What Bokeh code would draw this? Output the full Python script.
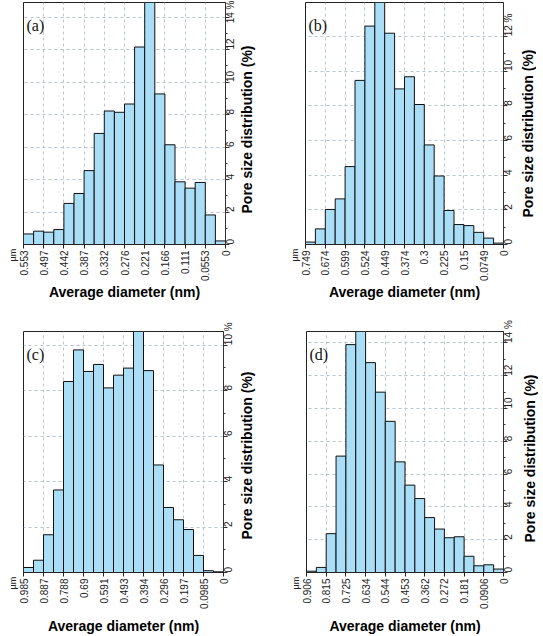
import math
from bokeh.plotting import figure
from bokeh.models import Range1d, FixedTicker, Label, ColumnDataSource, Title
from bokeh.layouts import row, column
from bokeh.embed import file_html
from bokeh.resources import INLINE

# ---------------- data ----------------
panel_tags = ["(a)", "(b)", "(c)", "(d)"]
x_max = [0.553, 0.749, 0.985, 0.906]

x_labels_a = ["0.553", "0.497", "0.442", "0.387", "0.332", "0.276", "0.221", "0.166", "0.111", "0.0553", "0"]
x_labels_b = ["0.749", "0.674", "0.599", "0.524", "0.449", "0.374", "0.3", "0.225", "0.15", "0.0749", "0"]
x_labels_c = ["0.985", "0.887", "0.788", "0.69", "0.591", "0.493", "0.394", "0.296", "0.197", "0.0985", "0"]
x_labels_d = ["0.906", "0.815", "0.725", "0.634", "0.544", "0.453", "0.362", "0.272", "0.181", "0.0906", "0"]

# pore size distribution (%) per bin, from largest diameter (left) to smallest (right)
pct_a = [0.65, 0.82, 0.76, 0.92, 2.53, 3.14, 4.55, 6.84, 8.22, 8.14, 8.65, 12.16, 14.9, 9.27, 6.14, 3.86, 3.47, 3.82, 1.82, 0.22]
pct_b = [0.14, 0.90, 2.02, 2.63, 4.49, 9.46, 12.59, 13.95, 12.18, 8.97, 9.67, 8.07, 5.74, 3.95, 1.96, 1.15, 1.09, 0.70, 0.37, 0.08]
pct_c = [0.22, 0.54, 1.66, 3.63, 8.40, 9.79, 8.84, 9.15, 8.12, 8.68, 8.99, 10.6, 8.88, 4.73, 2.86, 2.32, 1.89, 0.75, 0.08, 0.03]
pct_d = [0.08, 0.31, 2.37, 7.10, 13.9, 14.7, 12.8, 11.0, 9.22, 6.75, 5.33, 4.51, 3.35, 2.65, 2.12, 2.18, 0.99, 0.41, 0.47, 0.21]

y_ticks_a = [0, 2, 4, 6, 8, 10, 12, 14]
y_ticks_b = [0, 2, 4, 6, 8, 10, 12]
y_ticks_c = [0, 2, 4, 6, 8, 10]
y_ticks_d = [0, 2, 4, 6, 8, 10, 12, 14]

x_title = "Average diameter (nm)"
y_title = "Pore size distribution (%)"
unit_label = "µm"

BAR_FILL = "#a9def6"
GRID = "#b9c6d0"
SANS = "Liberation Sans"


def make_panel(tag, xmax, xlabels, pcts, yticks, fw, fh, bl, br, bt, xlab_standoff):
    n = len(pcts)
    hi = [xmax * (n - i) / n for i in range(n)]
    lo = [xmax * (n - i - 1) / n for i in range(n)]
    src = ColumnDataSource(dict(hi=hi, lo=lo, top=pcts, bottom=[0] * n))
    ymax = max(pcts)

    p = figure(
        frame_width=fw, frame_height=fh,
        min_border_left=bl, min_border_right=br, min_border_top=bt,
        min_border_bottom=0,
        x_range=Range1d(xmax, 0), y_range=Range1d(0, ymax),
        y_axis_location="right",
        output_backend="svg", toolbar_location=None,
        background_fill_color="white", border_fill_color="white",
    )
    p.outline_line_color = "#222222"
    p.outline_line_width = 1

    p.quad(left="hi", right="lo", top="top", bottom="bottom", source=src,
           fill_color=BAR_FILL, line_color="#111111", line_width=1)

    # x axis
    xt = [xmax * (10 - k) / 10 for k in range(11)]
    xax = p.xaxis[0]
    xax.ticker = FixedTicker(ticks=xt, minor_ticks=[])
    xax.major_label_overrides = {t: s for t, s in zip(xt, xlabels)}
    xax.major_label_orientation = math.pi / 2
    xax.major_label_text_font = SANS
    xax.major_label_text_font_size = "10px"
    xax.major_label_text_color = "#222222"
    xax.major_label_standoff = 2
    xax.major_tick_in = 0
    xax.major_tick_out = 4
    xax.axis_line_color = "#222222"
    xax.major_tick_line_color = "#222222"
    xax.axis_label = x_title
    xax.axis_label_text_font = SANS
    xax.axis_label_text_font_style = "bold"
    xax.axis_label_text_font_size = "14px"
    xax.axis_label_text_color = "#000000"
    xax.axis_label_standoff = xlab_standoff

    # y axis (right) -- its title is drawn in a separate strip to read bottom-to-top
    yax = p.yaxis[0]
    minor = [t + 1 for t in yticks if t + 1 < ymax]
    yax.ticker = FixedTicker(ticks=yticks, minor_ticks=minor)
    yax.major_label_overrides = {yticks[-1]: f"{yticks[-1]} %"}
    yax.major_label_orientation = math.pi / 2
    yax.major_label_text_font = SANS
    yax.major_label_text_font_size = "10px"
    yax.major_label_text_color = "#222222"
    yax.major_label_standoff = 1
    yax.major_tick_in = 0
    yax.major_tick_out = 4
    yax.minor_tick_in = 0
    yax.minor_tick_out = 2
    yax.axis_line_color = "#333333"
    yax.major_tick_line_color = "#333333"
    yax.minor_tick_line_color = "#333333"

    # grid
    p.xgrid.ticker = FixedTicker(ticks=xt)
    p.ygrid.ticker = FixedTicker(ticks=yticks)
    for g in (p.xgrid, p.ygrid):
        g.grid_line_color = GRID
        g.grid_line_dash = "3 3"
        g.grid_line_width = 1

    # panel tag
    p.add_layout(Label(x=xmax, y=ymax, x_offset=3, y_offset=-14, text=tag,
                       text_font="Liberation Serif", text_font_size="16px",
                       text_baseline="top", text_align="left", text_color="#111111"))
    # unit label
    p.add_layout(Title(text=unit_label, align="left", offset=-17,
                       standoff=11, text_font=SANS, text_font_size="9px",
                       text_line_height=1.0,
                       text_font_style="normal", text_color="#222222"), "left")
    return p


def make_ytitle(fh, bt, br, off, shift):
    s = figure(frame_width=1, frame_height=fh, min_border_left=0, min_border_right=br,
               min_border_top=bt, min_border_bottom=0,
               x_axis_type=None, y_axis_type=None,
               output_backend="svg", toolbar_location=None,
               background_fill_color=None, border_fill_color=None,
               margin=(0, 0, 0, shift))
    s.outline_line_color = None
    s.add_layout(Title(text=y_title, align="left", offset=off, standoff=0,
                       text_font=SANS, text_font_size="14px", text_font_style="bold",
                       text_color="#000000"), "left")
    return s


pa = make_panel(panel_tags[0], x_max[0], x_labels_a, pct_a, y_ticks_a, 202, 242, 20, 20, 2, 0)
la = make_ytitle(242, 2, 8, 31, -9)
pb = make_panel(panel_tags[1], x_max[1], x_labels_b, pct_b, y_ticks_b, 198, 242, 42, 18, 2, 0)
lb = make_ytitle(242, 2, 0, 27, -5)
pc = make_panel(panel_tags[2], x_max[2], x_labels_c, pct_c, y_ticks_c, 200, 241, 20, 22, 28, 6)
lc = make_ytitle(241, 28, 8, 33, -9)
pd = make_panel(panel_tags[3], x_max[3], x_labels_d, pct_d, y_ticks_d, 197, 241, 43, 18, 28, 6)
ld = make_ytitle(241, 28, 0, 30, -3)

layout = column(row(pa, la, pb, lb), row(pc, lc, pd, ld))

open("out.html", "w").write(file_html(layout, INLINE))
